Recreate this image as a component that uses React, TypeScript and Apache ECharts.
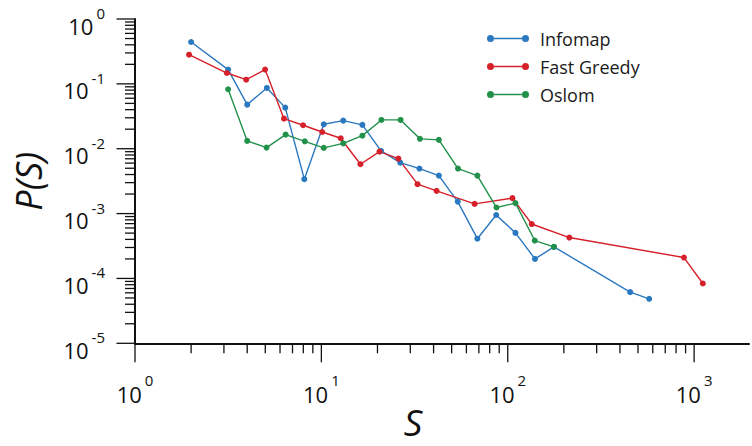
import React, { useEffect, useRef } from "react";
import * as echarts from "echarts";

const FONT = '"Open Sans", "Noto Sans", sans-serif';

const X_MIN = 1;
const X_MAX = 1970;
const Y_MIN = 1e-5;
const Y_MAX = 1;

const X_TITLE = "S";
const Y_TITLE = "P(S)";

const seriesNames = ["Infomap", "Fast Greedy", "Oslom"];
const seriesColors = ["#2a78c0", "#d6202a", "#21914a"];

const infomapS = [2, 3.16, 4, 5.1, 6.4, 8.1, 10.3, 13.1, 16.6, 20.9, 26.5, 33.6, 42.7, 53.9, 68.7, 86.7, 110, 140, 177, 454, 574];
const infomapP = [0.442, 0.166, 0.0478, 0.0865, 0.043, 0.00339, 0.0238, 0.0271, 0.0233, 0.00925, 0.0061, 0.00494, 0.00385, 0.00153, 0.00041, 0.00095, 0.000504, 0.0002, 0.000307, 6.15e-5, 4.85e-5];

const fastGreedyS = [1.95, 3.11, 3.95, 4.99, 6.3, 7.98, 10.1, 12.7, 16.2, 20.5, 25.9, 32.8, 41.5, 66.4, 106, 134.5, 214, 882, 1114];
const fastGreedyP = [0.282, 0.147, 0.116, 0.166, 0.0291, 0.023, 0.0181, 0.0145, 0.00577, 0.00903, 0.00704, 0.00284, 0.00224, 0.00141, 0.00173, 0.00069, 0.000427, 0.00021, 8.35e-5];

const oslomS = [3.16, 4, 5.08, 6.43, 8.15, 10.3, 13.1, 16.6, 21, 26.6, 33.8, 42.7, 54.1, 68.7, 87, 110, 139.6, 177];
const oslomP = [0.0826, 0.0132, 0.0104, 0.0165, 0.013, 0.0103, 0.0121, 0.0159, 0.0278, 0.0278, 0.0142, 0.0137, 0.00494, 0.00385, 0.00124, 0.00145, 0.000384, 0.000307];

const xTickValues = [1, 2, 3, 4, 5, 6, 7, 8, 9, 10, 20, 30, 40, 50, 60, 70, 80, 90, 100, 200, 300, 400, 500, 600, 700, 800, 900, 1000];
const yTickValues = [
  1e-5, 2e-5, 3e-5, 4e-5, 5e-5, 6e-5, 7e-5, 8e-5, 9e-5,
  1e-4, 2e-4, 3e-4, 4e-4, 5e-4, 6e-4, 7e-4, 8e-4, 9e-4,
  1e-3, 2e-3, 3e-3, 4e-3, 5e-3, 6e-3, 7e-3, 8e-3, 9e-3,
  1e-2, 2e-2, 3e-2, 4e-2, 5e-2, 6e-2, 7e-2, 8e-2, 9e-2,
  1e-1, 2e-1, 3e-1, 4e-1, 5e-1, 6e-1, 7e-1, 8e-1, 9e-1,
  1,
];

const isDecade = (v: number) => {
  const l = Math.log10(v);
  return Math.abs(l - Math.round(l)) < 1e-6;
};

const powLabel = (v: number) => {
  if (!isDecade(v)) return "";
  return `{b|10}{s|${Math.round(Math.log10(v))}}`;
};

const LEGEND_ICON =
  "path://M0,3.5A3.5,3.5 0 1 1 7,3.5A3.5,3.5 0 1 1 0,3.5Z M35,3.5A3.5,3.5 0 1 1 42,3.5A3.5,3.5 0 1 1 35,3.5Z M7,2.8L35,2.8L35,4.2L7,4.2Z";

const richFor = (supTop: number) => ({
  b: {
    fontSize: 22,
    lineHeight: 35,
    fontFamily: FONT,
    color: "#111",
    verticalAlign: "bottom",
  },
  s: {
    fontSize: 15,
    lineHeight: 15,
    fontFamily: FONT,
    color: "#111",
    verticalAlign: "top",
    padding: [supTop, 0, 0, 3],
  },
});

export default function App() {
  const ref = useRef<HTMLDivElement>(null);

  useEffect(() => {
    if (!ref.current) return;
    const chart = echarts.init(ref.current, undefined, { renderer: "svg" });

    const sData = [infomapS, fastGreedyS, oslomS];
    const pData = [infomapP, fastGreedyP, oslomP];

    const lineSeries = seriesNames.map((name, i) => ({
      name,
      type: "line",
      data: sData[i].map((s, j) => [s, pData[i][j]]),
      symbol: "circle",
      symbolSize: 6,
      showSymbol: true,
      lineStyle: { color: seriesColors[i], width: 1.4 },
      itemStyle: { color: seriesColors[i] },
      z: 3,
    }));

    const option: any = {
      animation: false,
      backgroundColor: "#ffffff",
      grid: { left: 135, right: 0, top: 19, bottom: 102.7, containLabel: false },
      legend: {
        data: seriesNames,
        orient: "vertical",
        left: 487,
        top: 29.5,
        padding: 0,
        icon: LEGEND_ICON,
        itemWidth: 42,
        itemHeight: 7,
        itemGap: 10,
        textStyle: { fontSize: 18, fontFamily: FONT, color: "#1a1a1a", padding: [0, 0, 0, 6] },
      },
      xAxis: {
        type: "log",
        logBase: 10,
        min: X_MIN,
        max: X_MAX,
        axisLine: { onZero: false, lineStyle: { color: "#111", width: 2 } },
        axisTick: { show: false },
        splitLine: { show: false },
        minorTick: { show: false },
        axisLabel: {
          margin: 27,
          color: "#111",
          fontFamily: FONT,
          formatter: powLabel,
          rich: richFor(2),
        },
      },
      yAxis: {
        type: "log",
        logBase: 10,
        min: Y_MIN,
        max: Y_MAX,
        name: Y_TITLE,
        nameLocation: "middle",
        nameGap: 89,
        nameTextStyle: { fontSize: 36, fontStyle: "italic", fontFamily: FONT, color: "#111" },
        axisLine: { onZero: false, lineStyle: { color: "#111", width: 2 } },
        axisTick: { show: false },
        splitLine: { show: false },
        minorTick: { show: false },
        axisLabel: {
          margin: 30,
          color: "#111",
          fontFamily: FONT,
          formatter: powLabel,
          rich: richFor(4),
        },
      },
      series: lineSeries,
    };

    chart.setOption(option);

    // Axis ticks (major and log-spaced minor), positioned through the chart's own scales.
    const tickEls: any[] = [];
    xTickValues.forEach((v) => {
      const p = chart.convertToPixel({ gridIndex: 0 }, [v, Y_MIN]) as number[];
      const len = isDecade(v) ? 19 : 10;
      tickEls.push({
        type: "line",
        silent: true,
        shape: { x1: p[0], y1: p[1], x2: p[0], y2: p[1] + len },
        style: { stroke: "#111", lineWidth: 1.3 },
        z: 1,
      });
    });
    yTickValues.forEach((v) => {
      const p = chart.convertToPixel({ gridIndex: 0 }, [X_MIN, v]) as number[];
      const len = isDecade(v) ? 18.5 : 10;
      tickEls.push({
        type: "line",
        silent: true,
        shape: { x1: p[0] - len, y1: p[1], x2: p[0], y2: p[1] },
        style: { stroke: "#111", lineWidth: 1.3 },
        z: 1,
      });
    });
    tickEls.push({
      type: "text",
      silent: true,
      x: 413,
      y: 421,
      style: {
        text: X_TITLE,
        fontSize: 37,
        fontStyle: "italic",
        fontFamily: FONT,
        fill: "#111",
        align: "center",
        verticalAlign: "middle",
      },
      z: 2,
    });
    chart.setOption({ graphic: { elements: tickEls } });

    return () => chart.dispose();
  }, []);

  return (
    <div
      ref={ref}
      style={{ position: "fixed", left: 0, top: 0, width: 752, height: 446, background: "#fff" }}
    />
  );
}
